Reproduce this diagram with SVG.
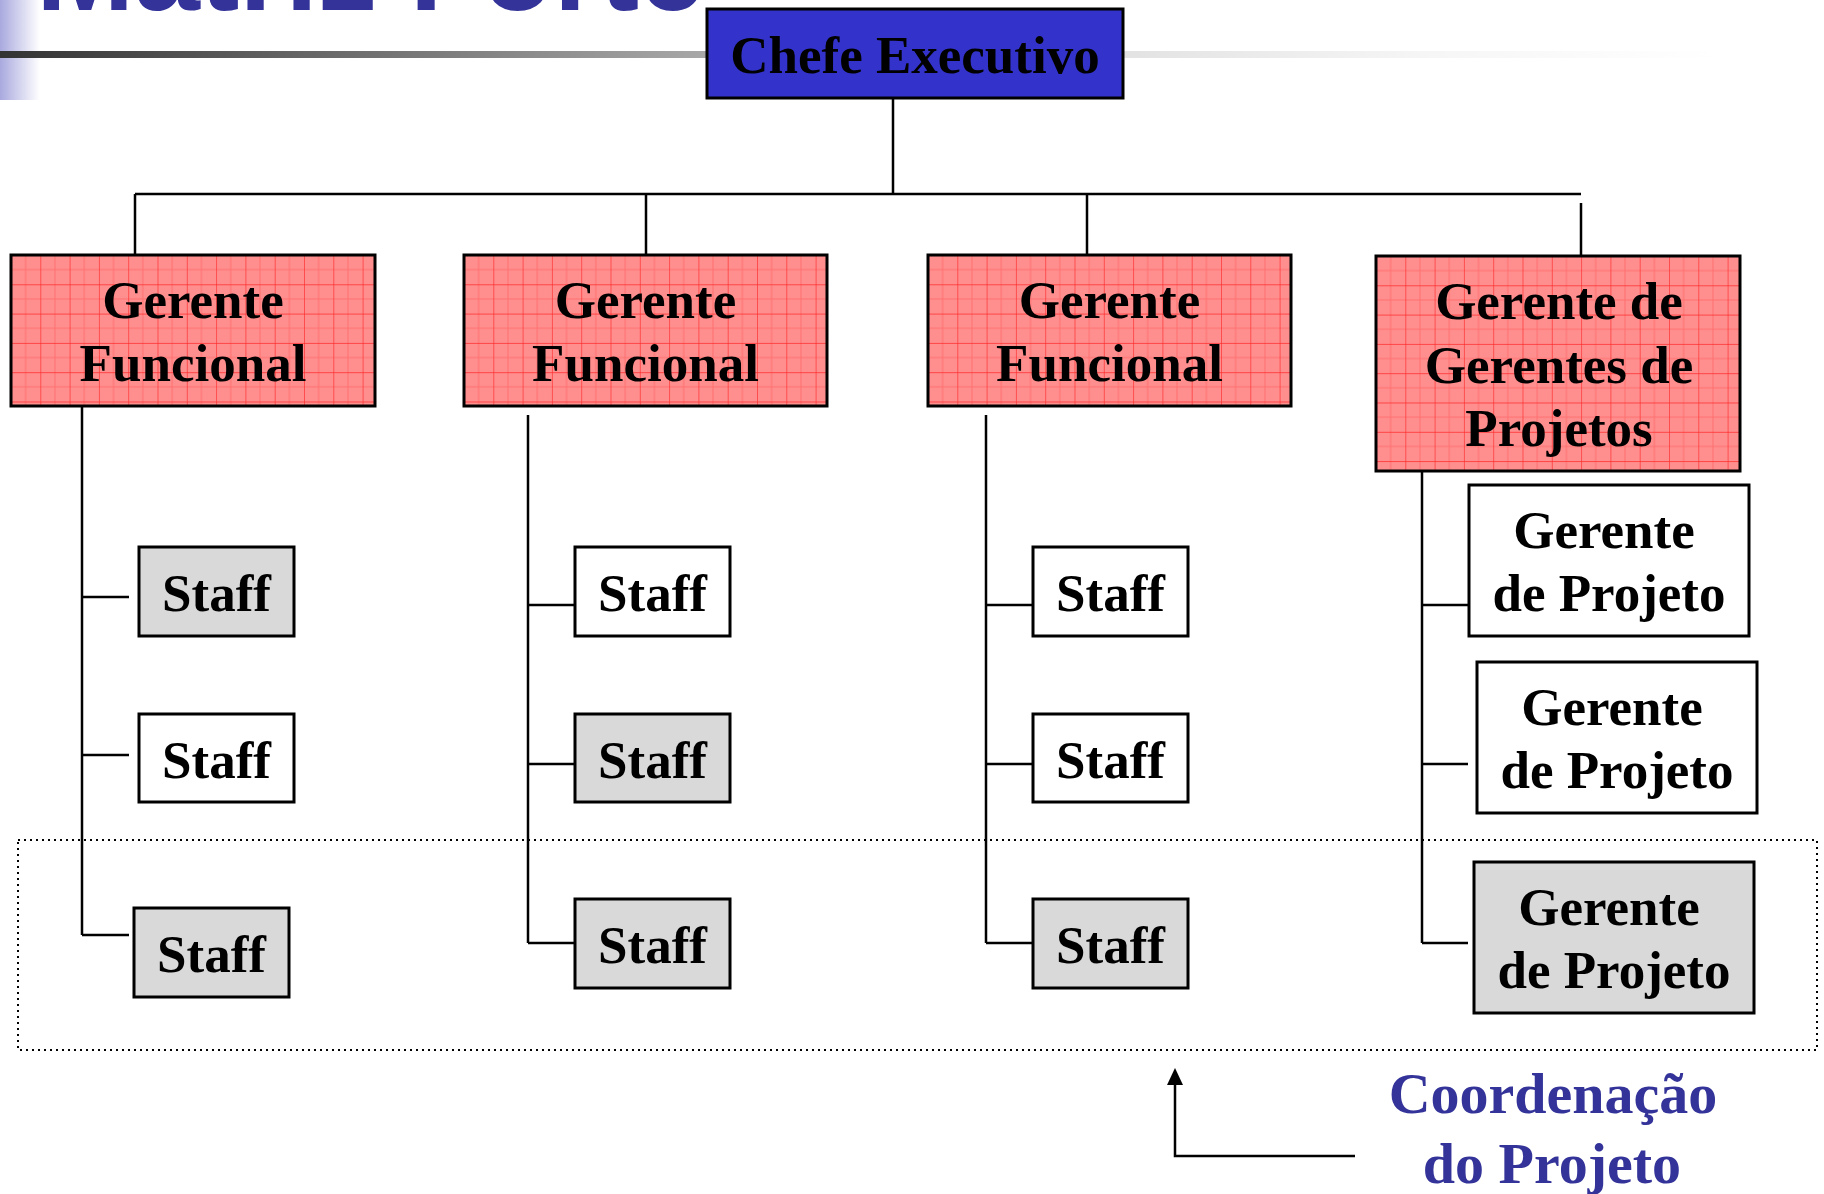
<svg xmlns="http://www.w3.org/2000/svg" width="1824" height="1194" viewBox="0 0 1824 1194">
<style>
.box{stroke:#000;stroke-width:3}
.pink{fill:url(#grid)}
.white{fill:#FFFFFF}
.gray{fill:#D9D9D9}
.blue{fill:#3333CC}
.t{font-family:"Liberation Serif","Times New Roman",serif;font-weight:bold;font-size:53px;text-anchor:middle;fill:#000}
.ln{stroke:#000;stroke-width:2.5;fill:none}
.dot{stroke:#000;stroke-width:2;fill:none;stroke-dasharray:2 4}
.title{font-family:"Liberation Sans",Arial,sans-serif;font-weight:bold;font-size:118px;fill:#333399}
.coord{font-family:"Liberation Serif","Times New Roman",serif;font-weight:bold;font-size:58px;text-anchor:middle;fill:#333399}
</style>
<defs>
<linearGradient id="bar" gradientUnits="userSpaceOnUse" x1="0" y1="0" x2="1720" y2="0">
<stop offset="0" stop-color="#333333"/>
<stop offset="0.41" stop-color="#A8A8A8"/>
<stop offset="0.65" stop-color="#E2E2E2"/>
<stop offset="0.83" stop-color="#F6F6F6"/>
<stop offset="1" stop-color="#FFFFFF"/>
</linearGradient>
<linearGradient id="side" x1="0" y1="0" x2="1" y2="0">
<stop offset="0" stop-color="#A9A9DF"/>
<stop offset="1" stop-color="#FFFFFF"/>
</linearGradient>
<pattern id="grid" width="29.3" height="29.3" patternUnits="userSpaceOnUse">
<rect width="29.3" height="29.3" fill="#FF8E8E"/>
<path d="M14.65 0V29.3M0 14.65H29.3" stroke="#FF7070" stroke-width="1"/>
<path d="M0 0V29.3M0 0H29.3" stroke="#FF2A2A" stroke-width="1.3"/>
</pattern>
<marker id="arr" viewBox="0 -8 17 16" markerWidth="17" markerHeight="16" refX="0" refY="0" markerUnits="userSpaceOnUse" orient="auto">
<path d="M0,-8 L17,0 L0,8 z" fill="#000"/>
</marker>
</defs>

<g id="decor">
<rect x="0" y="0" width="40" height="100" fill="url(#side)"/>
<rect x="0" y="51" width="1720" height="7" fill="url(#bar)"/>
<text class="title" x="36" y="10">Matriz Forte</text>
</g>

<g id="connectors">
<path class="ln" d="M893 98V194M135 194H1581M135 194V255M646 194V255M1087 194V255M1581 203V263"/>
<path class="ln" d="M82 406V935M82 597H129M82 755H129M82 935H129"/>
<path class="ln" d="M528 415V943M528 605H575M528 764H575M528 943H575"/>
<path class="ln" d="M986 415V943M986 605H1033M986 764H1033M986 943H1033"/>
<path class="ln" d="M1422 471V943M1422 605H1468M1422 764H1468M1422 943H1468"/>
<path class="ln" d="M1355 1156H1175V1085" stroke-width="3" marker-end="url(#arr)"/>
</g>

<g id="coordenacao-area">
<rect class="dot" x="18" y="840" width="1799" height="210"/>
<text class="coord" x="1553" y="1113">Coordenação</text>
<text class="coord" x="1552" y="1183">do Projeto</text>
</g>

<g id="chefe">
<rect class="box blue" x="707" y="9" width="416" height="89"/>
<text class="t" x="915" y="73">Chefe Executivo</text>
</g>

<g id="gerente-funcional-1" transform="translate(11,255)">
<rect class="box pink" x="0" y="0" width="364" height="151"/>
<text class="t" x="182" y="63">Gerente</text>
<text class="t" x="182" y="126">Funcional</text>
</g>
<g id="gerente-funcional-2" transform="translate(464,255)">
<rect class="box pink" x="0" y="0" width="363" height="151"/>
<text class="t" x="181.5" y="63">Gerente</text>
<text class="t" x="181.5" y="126">Funcional</text>
</g>
<g id="gerente-funcional-3" transform="translate(928,255)">
<rect class="box pink" x="0" y="0" width="363" height="151"/>
<text class="t" x="181.5" y="63">Gerente</text>
<text class="t" x="181.5" y="126">Funcional</text>
</g>
<g id="gerente-gerentes" transform="translate(1376,256)">
<rect class="box pink" x="0" y="0" width="364" height="215"/>
<text class="t" x="183" y="63">Gerente de</text>
<text class="t" x="183" y="127">Gerentes de</text>
<text class="t" x="183" y="190">Projetos</text>
</g>

<g id="staff-1a"><rect class="box gray" x="139" y="547" width="155" height="89"/><text class="t" x="216.5" y="611">Staff</text></g>
<g id="staff-1b"><rect class="box white" x="139" y="714" width="155" height="88"/><text class="t" x="216.5" y="778">Staff</text></g>
<g id="staff-1c"><rect class="box gray" x="134" y="908" width="155" height="89"/><text class="t" x="211.5" y="972">Staff</text></g>

<g id="staff-2a"><rect class="box white" x="575" y="547" width="155" height="89"/><text class="t" x="652.5" y="611">Staff</text></g>
<g id="staff-2b"><rect class="box gray" x="575" y="714" width="155" height="88"/><text class="t" x="652.5" y="778">Staff</text></g>
<g id="staff-2c"><rect class="box gray" x="575" y="899" width="155" height="89"/><text class="t" x="652.5" y="963">Staff</text></g>

<g id="staff-3a"><rect class="box white" x="1033" y="547" width="155" height="89"/><text class="t" x="1110.5" y="611">Staff</text></g>
<g id="staff-3b"><rect class="box white" x="1033" y="714" width="155" height="88"/><text class="t" x="1110.5" y="778">Staff</text></g>
<g id="staff-3c"><rect class="box gray" x="1033" y="899" width="155" height="89"/><text class="t" x="1110.5" y="963">Staff</text></g>

<g id="gp-1"><rect class="box white" x="1469" y="485" width="280" height="151"/><text class="t" x="1604" y="548">Gerente</text><text class="t" x="1609" y="611">de Projeto</text></g>
<g id="gp-2"><rect class="box white" x="1477" y="662" width="280" height="151"/><text class="t" x="1612" y="725">Gerente</text><text class="t" x="1617" y="788">de Projeto</text></g>
<g id="gp-3"><rect class="box gray" x="1474" y="862" width="280" height="151"/><text class="t" x="1609" y="925">Gerente</text><text class="t" x="1614" y="988">de Projeto</text></g>
</svg>
